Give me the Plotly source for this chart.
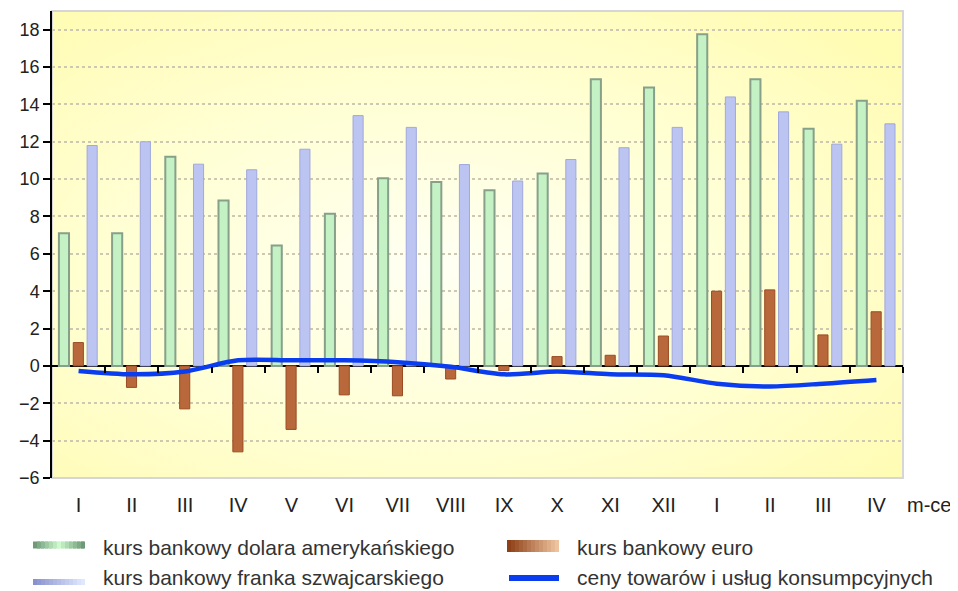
import plotly.graph_objects as go

months = ["I", "II", "III", "IV", "V", "VI", "VII", "VIII", "IX", "X", "XI", "XII", "I", "II", "III", "IV"]
usd = [7.1, 7.1, 11.2, 8.85, 6.45, 8.15, 10.05, 9.85, 9.4, 10.3, 15.35, 14.9, 17.75, 15.35, 12.7, 14.2]
eur = [1.25, -1.15, -2.3, -4.6, -3.4, -1.55, -1.6, -0.7, -0.25, 0.5, 0.57, 1.6, 4.0, 4.07, 1.66, 2.9]
chf = [11.8, 12.0, 10.8, 10.5, 11.6, 13.4, 12.77, 10.78, 9.9, 11.05, 11.68, 12.77, 14.4, 13.6, 11.87, 12.96]
cpi = [-0.27, -0.45, -0.3, 0.3, 0.3, 0.3, 0.2, -0.05, -0.45, -0.3, -0.45, -0.5, -0.95, -1.1, -0.95, -0.75]
y_ticks = [-6, -4, -2, 0, 2, 4, 6, 8, 10, 12, 14, 16, 18]
names = ["kurs bankowy dolara amerykańskiego", "kurs bankowy euro",
         "kurs bankowy franka szwajcarskiego", "ceny towarów i usług konsumpcyjnych"]

x = list(range(len(months)))
FONT = "Liberation Sans, Arial, sans-serif"

# page body has an 8px margin; figure is sized so that the page matches 958x591
OFF = 8
W, H = 958 - OFF, 591 - OFF
# target plot area in page pixels: x 52..903, y 11..478
L, T = 52 - OFF, 11 - OFF
R = W - (903 - OFF)
B = H - (478 - OFF)
PW, PH = W - L - R, H - T - B


def px(v):
    # page pixel x -> paper fraction
    return (v - OFF - L) / PW


def py(v):
    # page pixel y -> paper fraction
    return (T + PH - (v - OFF)) / PH


def mix(c1, c2, t):
    a = [int(c1[i:i + 2], 16) for i in (1, 3, 5)]
    b = [int(c2[i:i + 2], 16) for i in (1, 3, 5)]
    return "#" + "".join(f"{round(a[k] + (b[k] - a[k]) * t):02X}" for k in range(3))


fig = go.Figure()
bw = 0.19
fig.add_trace(go.Bar(x=x, y=usd, width=bw, offset=-0.37, name=names[0],
                     marker=dict(color="#C4F2C4", line=dict(color="#86A08A", width=2)),
                     showlegend=False))
fig.add_trace(go.Bar(x=x, y=eur, width=bw, offset=-0.1, name=names[1],
                     marker=dict(color="#B8683A", line=dict(color="#9A4C24", width=1)),
                     showlegend=False))
fig.add_trace(go.Bar(x=x, y=chf, width=bw, offset=0.16, name=names[2],
                     marker=dict(color="#BCC4F2", line=dict(color="#A0A8DC", width=1)),
                     showlegend=False))
fig.add_trace(go.Scatter(x=x, y=cpi, mode="lines", name=names[3], xaxis="x2",
                         line=dict(color="#0A3CF0", width=4.5, shape="spline", smoothing=0.8),
                         showlegend=False))

bg_svg = ("data:image/svg+xml;utf8,<svg xmlns='http://www.w3.org/2000/svg' width='100' height='100' "
          "preserveAspectRatio='none'><defs><radialGradient id='g' cx='0.45' cy='0.55' r='0.7'>"
          "<stop offset='0' stop-color='%23FFFFF4'/><stop offset='0.5' stop-color='%23FFFFD6'/>"
          "<stop offset='1' stop-color='%23FFFCB4'/></radialGradient></defs>"
          "<rect width='100' height='100' fill='url(%23g)'/></svg>")

shapes = [dict(type="rect", xref="paper", yref="paper", x0=0, x1=1, y0=0, y1=1,
               line=dict(color="#D6D6D6", width=2), layer="below")]
annotations = [dict(text="m-ce", xref="paper", yref="paper", x=px(905), y=py(505),
                    xanchor="left", yanchor="middle", showarrow=False,
                    font=dict(family=FONT, size=20, color="#222"))]

# legend (manual): name, swatch x, swatch centre y, swatch height, text centre y, kind, colours
legend_items = [
    (names[0], 33, 545, 7, 547, "mid", ("#6E9A78", "#CCFACC")),
    (names[2], 33, 582, 6, 577, "ramp", ("#8A92CE", "#E0E8FF")),
    (names[1], 507, 546, 12, 547, "ramp", ("#8E4018", "#EEC4A0")),
    (names[3], 507, 578, 6, 577, "line", ("#0A3CF0", None)),
]
NS = 13
for name, sx, sy, sh, ty, kind, (c1, c2) in legend_items:
    if kind == "line":
        shapes.append(dict(type="line", xref="paper", yref="paper",
                           x0=px(sx + 2), x1=px(sx + 52), y0=py(sy), y1=py(sy),
                           line=dict(color=c1, width=6)))
    else:
        for k in range(NS):
            t = k / (NS - 1)
            if kind == "mid":
                t = 1 - abs(2 * t - 1)
            x1 = sx + 52 if k == NS - 1 else sx + k * 4 + 7
            shapes.append(dict(type="rect", xref="paper", yref="paper",
                               x0=px(sx + k * 4), x1=px(x1),
                               y0=py(sy + sh / 2), y1=py(sy - sh / 2),
                               fillcolor=mix(c1, c2, t), line=dict(width=0)))
    annotations.append(dict(text=name, xref="paper", yref="paper", x=px(sx + 68), y=py(ty),
                            xanchor="left", yanchor="middle", showarrow=False,
                            font=dict(family=FONT, size=21, color="#333")))

fig.update_layout(
    width=W, height=H,
    margin=dict(l=L, r=R, t=T, b=B, autoexpand=False),
    paper_bgcolor="white",
    plot_bgcolor="rgba(0,0,0,0)",
    barmode="overlay",
    showlegend=False,
    font=dict(family=FONT, color="#222"),
    images=[dict(source=bg_svg, xref="paper", yref="paper", x=0, y=1, sizex=1, sizey=1,
                 sizing="stretch", layer="below", xanchor="left", yanchor="top")],
    xaxis=dict(range=[-0.5, 15.5], tickvals=x, ticktext=months, ticks="",
               showline=False, showgrid=False, zeroline=False, automargin=False,
               tickfont=dict(size=20, color="#222"), ticklabelstandoff=13),
    xaxis2=dict(range=[-0.5, 15.5], overlaying="x", anchor="free", position=0.24,
                tickvals=[i + 0.5 for i in range(16)], ticks="outside", ticklen=6,
                tickwidth=1.5, tickcolor="black", showticklabels=False,
                showline=False, showgrid=False, zeroline=False),
    yaxis=dict(range=[-6, 19], tickvals=y_ticks, ticks="outside", ticklen=7,
               tickwidth=1.5, tickcolor="black", showline=True, linecolor="black",
               linewidth=1.5, showgrid=True, gridcolor="#CFC8B0", griddash="dot",
               gridwidth=2, zeroline=True, zerolinecolor="black", zerolinewidth=1.5,
               automargin=False, tickfont=dict(size=18, color="#222")),
    shapes=shapes,
    annotations=annotations,
)

fig.write_html("out.html")
